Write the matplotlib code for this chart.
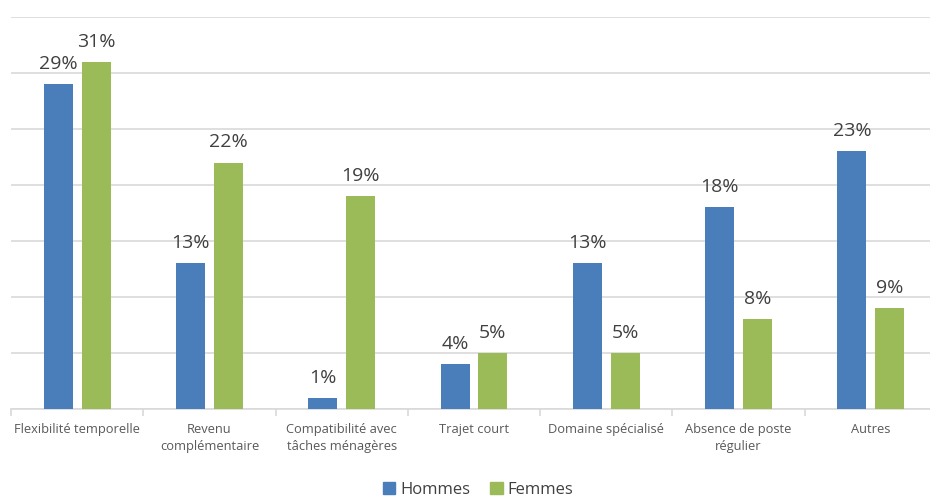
import matplotlib
matplotlib.use("Agg")
import matplotlib.pyplot as plt
import numpy as np
from matplotlib.patches import Patch

# --- data -------------------------------------------------------------------
categories = [
    "Flexibilité temporelle",
    "Revenu\ncomplémentaire",
    "Compatibilité avec\ntâches ménagères",
    "Trajet court",
    "Domaine spécialisé",
    "Absence de poste\nrégulier",
    "Autres",
]
hommes = [29, 13, 1, 4, 13, 18, 23]
femmes = [31, 22, 19, 5, 5, 8, 9]
series_names = ["Hommes", "Femmes"]

BLUE = "#4a7ebb"
GREEN = "#9bbb59"
GRID = "#d9d9d9"
TXT = "#404040"

plt.rcParams["font.family"] = ["Open Sans", "DejaVu Sans"]

fig = plt.figure(figsize=(9.30, 4.99), dpi=100)
ax = fig.add_axes([11 / 930, 1 - 409 / 499, 926 / 930, (409 - 17) / 499])

x = np.arange(len(categories))
w = 0.22
off = 0.143
b1 = ax.bar(x - off, hommes, w, color=BLUE, zorder=3)
b2 = ax.bar(x + off, femmes, w, color=GREEN, zorder=3)

for bars, vals in ((b1, hommes), (b2, femmes)):
    for r, v in zip(bars, vals):
        ax.annotate(f"{v}%", (r.get_x() + r.get_width() / 2, v),
                    xytext=(0, 11), textcoords="offset points",
                    ha="center", va="baseline", fontsize=14, color=TXT)

ax.set_xlim(-0.5, len(categories) - 0.5)
ax.set_ylim(0, 35)
ax.set_yticks(np.arange(0, 36, 5))
ax.yaxis.grid(True, color=GRID, linewidth=1.2, zorder=0)
ax.tick_params(axis="y", left=False, labelleft=False)

ax.set_xticks(x)
ax.set_xticklabels(categories, fontsize=9.3, color="#595959", linespacing=1.45)
ax.set_xticks(np.arange(-0.5, len(categories), 1), minor=True)
ax.tick_params(axis="x", which="major", length=0, pad=10)
ax.tick_params(axis="x", which="minor", length=5, color=GRID, width=1.2)

for s in ("top", "right", "left"):
    ax.spines[s].set_visible(False)
ax.spines["bottom"].set_color(GRID)
ax.spines["bottom"].set_linewidth(1.2)

handles = [Patch(color=BLUE, label=series_names[0]),
           Patch(color=GREEN, label=series_names[1])]
fig.legend(handles=handles, loc="center", bbox_to_anchor=(478 / 930, 1 - 490 / 499),
           ncol=2, frameon=False, fontsize=12, handlelength=0.75, handleheight=0.75,
           handletextpad=0.3, columnspacing=1.2, labelcolor="#404040")

fig.savefig("out.png", dpi=100)
